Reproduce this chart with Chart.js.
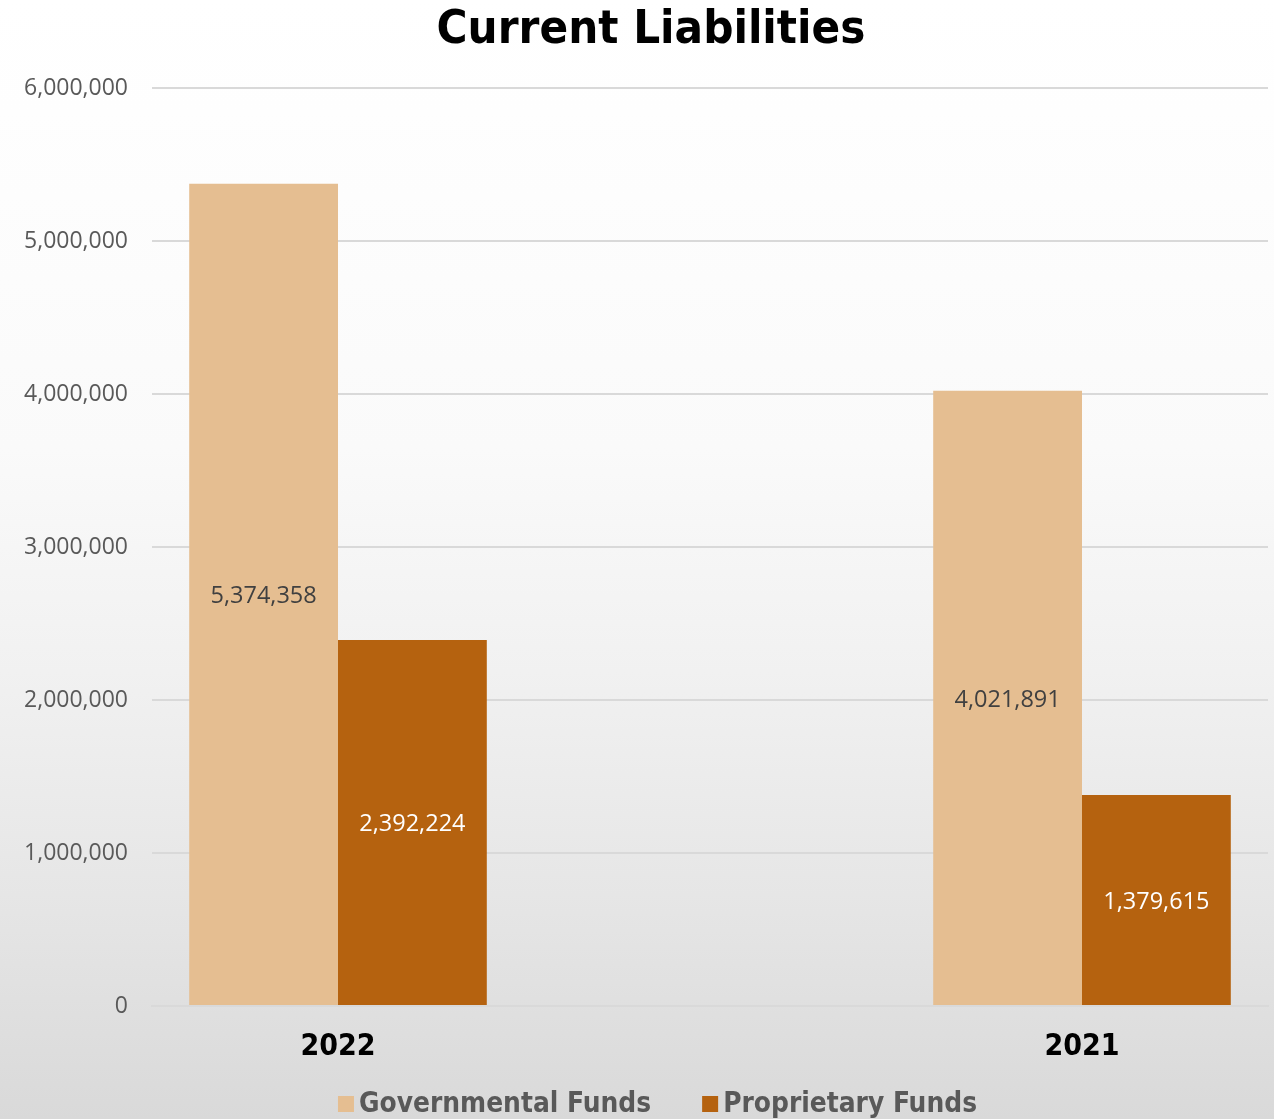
<!DOCTYPE html>
<html>
<head>
<meta charset="utf-8">
<title>Current Liabilities</title>
<script src="https://cdn.jsdelivr.net/npm/chart.js@4"></script>
<style>
  html, body { margin: 0; padding: 0; background: #fff; }
  #wrap { width: 1274px; height: 1119px; }
</style>
</head>
<body>
<div id="wrap"><canvas id="liabChart" width="1274" height="1119"></canvas></div>
<script>
const categories = ["2022", "2021"];
const governmental = [5374358, 4021891];
const proprietary = [2392224, 1379615];
const yTicks = [0, 1000000, 2000000, 3000000, 4000000, 5000000, 6000000];

// years sit in the outer thirds of the axis, empty slot between them
const xLabels = [categories[0], "", categories[1]];
const spread = arr => [arr[0], null, arr[1]];

const fmt = v => v.toLocaleString("en-US");
const headFont = "'DejaVu Sans Condensed', 'DejaVu Sans'";
const chartTitle = "Current Liabilities";

// soft white-to-grey backdrop, darkening mostly in the lower half
const backdrop = {
  id: "backdrop",
  beforeDraw(chart) {
    const { ctx, width, height } = chart;
    const g = ctx.createLinearGradient(0, 0, 0, height);
    g.addColorStop(0, "#ffffff");
    g.addColorStop(0.1, "#fefefe");
    g.addColorStop(0.4, "#fafafa");
    g.addColorStop(0.6, "#f1f1f1");
    g.addColorStop(0.8, "#e6e6e6");
    g.addColorStop(1, "#d9d9d9");
    ctx.save();
    ctx.fillStyle = g;
    ctx.fillRect(0, 0, width, height);
    ctx.restore();
  }
};

// value printed in the middle of each bar
const barValues = {
  id: "barValues",
  afterDatasetsDraw(chart) {
    const { ctx } = chart;
    ctx.save();
    ctx.font = "23.5px 'Open Sans'";
    ctx.textAlign = "center";
    ctx.textBaseline = "middle";
    chart.data.datasets.forEach((ds, i) => {
      ctx.fillStyle = ds.labelColor;
      chart.getDatasetMeta(i).data.forEach((bar, j) => {
        const v = ds.data[j];
        if (v == null) return;
        ctx.fillText(fmt(v), bar.x, (bar.y + bar.base) / 2 + 2);
      });
    });
    ctx.restore();
  }
};

// heading and a compact legend row, both centred a little right of the canvas middle
const heading = {
  id: "heading",
  afterDraw(chart) {
    const { ctx } = chart;
    ctx.save();
    ctx.fillStyle = "#000";
    ctx.font = "bold 47px " + headFont;
    ctx.textAlign = "center";
    ctx.textBaseline = "middle";
    ctx.fillText(chartTitle, 651, 31);

    const box = 16, gap = 5, between = 51, y = 1104;
    ctx.font = "bold 27.8px " + headFont;
    const items = chart.data.datasets.map(ds => ({
      text: ds.label, color: ds.backgroundColor, w: ctx.measureText(ds.label).width
    }));
    const total = items.reduce((s, it) => s + box + gap + it.w, 0) + between * (items.length - 1);
    let x = 657.5 - total / 2;
    ctx.textAlign = "left";
    items.forEach(it => {
      ctx.fillStyle = it.color;
      ctx.fillRect(x, y - box / 2, box, box);
      x += box + gap;
      ctx.fillStyle = "#595959";
      ctx.fillText(it.text, x, y + 1);
      x += it.w + between;
    });
    ctx.restore();
  }
};

new Chart(document.getElementById("liabChart"), {
  type: "bar",
  data: {
    labels: xLabels,
    datasets: [
      {
        label: "Governmental Funds",
        data: spread(governmental),
        backgroundColor: "#e5be91",
        labelColor: "#404040"
      },
      {
        label: "Proprietary Funds",
        data: spread(proprietary),
        backgroundColor: "#b5620f",
        labelColor: "#ffffff"
      }
    ]
  },
  options: {
    responsive: false,
    animation: false,
    layout: { padding: { left: 0, right: 6, top: 88, bottom: 0 } },
    datasets: {
      bar: { categoryPercentage: 0.8, barPercentage: 1.0, skipNull: false }
    },
    plugins: {
      title: { display: false },
      legend: { display: false },
      tooltip: { enabled: false }
    },
    scales: {
      x: {
        grid: { display: false },
        border: { display: true, color: "#d9d9d9", width: 2 },
        ticks: {
          color: "#000",
          padding: 15,
          font: { family: headFont, size: 30, weight: "bold" }
        },
        afterFit(scale) { scale.height = 113; }
      },
      y: {
        min: 0,
        max: 6000000,
        afterBuildTicks(scale) { scale.ticks = yTicks.map(v => ({ value: v })); },
        grid: { color: "#d9d9d9", lineWidth: 2, drawTicks: false },
        border: { display: false },
        ticks: {
          color: "#595959",
          padding: 24,
          font: { family: "'Open Sans'", size: 23 },
          callback: v => fmt(v)
        },
        afterFit(scale) { scale.width = 152; }
      }
    }
  },
  plugins: [backdrop, barValues, heading]
});
</script>
</body>
</html>
